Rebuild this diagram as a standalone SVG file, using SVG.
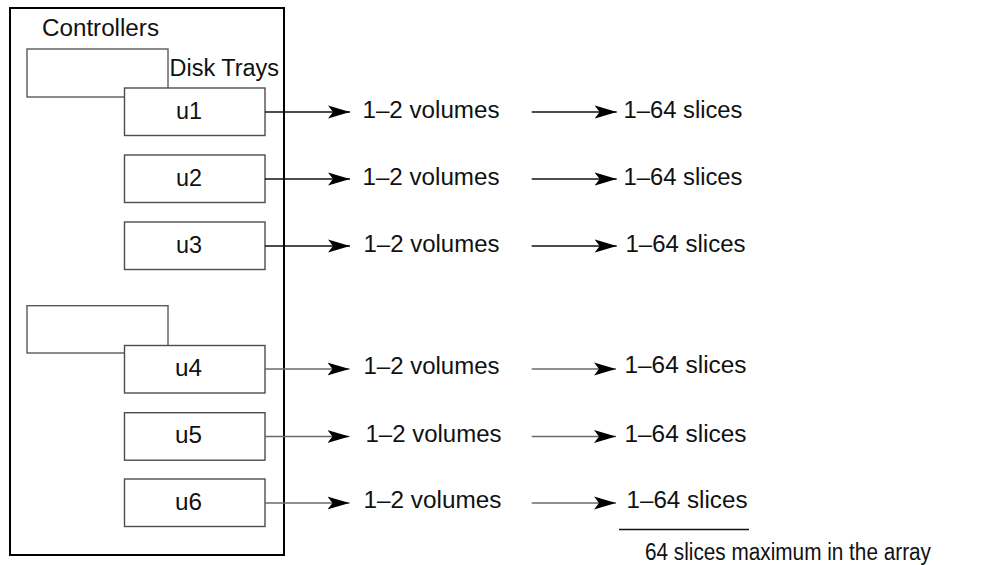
<svg xmlns="http://www.w3.org/2000/svg" width="994" height="565" viewBox="0 0 994 565">
<style>
text{font-family:"Liberation Sans",Arial,Helvetica,sans-serif;font-size:23px;fill:#111}
.box{fill:#fff;stroke:#4d4d4d;stroke-width:1.4}
.tray{fill:none;stroke:#5a5a5a;stroke-width:1.4}
.c1{stroke:#111;stroke-width:1.4;fill:none}
.c2{stroke:#6a6a6a;stroke-width:1.4;fill:none}
</style>
<defs>
<marker id="ah" markerUnits="userSpaceOnUse" markerWidth="24" markerHeight="16" viewBox="0 0 24 16" refX="22" refY="8" orient="auto">
<path d="M0,1.5 L22,8 L0,14.5 L5,8 z" fill="#000"/>
</marker>
</defs>
<rect width="994" height="565" fill="#fff"/>
<g id="enclosure">
<rect x="10" y="8" width="274" height="547" fill="none" stroke="#000" stroke-width="2"/>
<text x="42" y="36" textLength="117" lengthAdjust="spacingAndGlyphs">Controllers</text>
<text x="169.5" y="76" textLength="109.5" lengthAdjust="spacingAndGlyphs">Disk Trays</text>
</g>
<g id="tray1"><rect class="tray" x="27" y="49" width="141" height="48"/></g>
<g id="tray2"><rect class="tray" x="27" y="305.7" width="141" height="47.3"/></g>
<g id="u1"><rect class="box" x="124.5" y="88" width="140.5" height="47.5"/><text x="176" y="118.5" textLength="26" lengthAdjust="spacingAndGlyphs">u1</text></g>
<g id="u2"><rect class="box" x="124.5" y="155" width="140.5" height="47.5"/><text x="176" y="185.5" textLength="26" lengthAdjust="spacingAndGlyphs">u2</text></g>
<g id="u3"><rect class="box" x="124.5" y="222" width="140.5" height="47.5"/><text x="176" y="252.5" textLength="26" lengthAdjust="spacingAndGlyphs">u3</text></g>
<g id="u4"><rect class="box" x="124.5" y="345.5" width="140.5" height="47.5"/><text x="175" y="376" textLength="27" lengthAdjust="spacingAndGlyphs">u4</text></g>
<g id="u5"><rect class="box" x="124.5" y="412.7" width="140.5" height="47.5"/><text x="175" y="443" textLength="27" lengthAdjust="spacingAndGlyphs">u5</text></g>
<g id="u6"><rect class="box" x="124.5" y="479" width="140.5" height="47.5"/><text x="175" y="509.5" textLength="27" lengthAdjust="spacingAndGlyphs">u6</text></g>
<g id="connectors">
<line class="c1" x1="265" y1="112" x2="350" y2="112" marker-end="url(#ah)"/>
<line class="c1" x1="531.7" y1="112" x2="616.7" y2="112" marker-end="url(#ah)"/>
<line class="c1" x1="265" y1="179" x2="350" y2="179" marker-end="url(#ah)"/>
<line class="c1" x1="531.7" y1="179" x2="616.7" y2="179" marker-end="url(#ah)"/>
<line class="c1" x1="265" y1="246" x2="350" y2="246" marker-end="url(#ah)"/>
<line class="c1" x1="531.7" y1="246" x2="616.7" y2="246" marker-end="url(#ah)"/>
<line class="c2" x1="265" y1="369" x2="349.5" y2="369" marker-end="url(#ah)"/>
<line class="c2" x1="531.7" y1="369" x2="616" y2="369" marker-end="url(#ah)"/>
<line class="c2" x1="265" y1="436.5" x2="349.5" y2="436.5" marker-end="url(#ah)"/>
<line class="c2" x1="531.7" y1="436.5" x2="616" y2="436.5" marker-end="url(#ah)"/>
<line class="c2" x1="265" y1="503" x2="349.5" y2="503" marker-end="url(#ah)"/>
<line class="c2" x1="531.7" y1="503" x2="616" y2="503" marker-end="url(#ah)"/>
</g>
<g id="volumes">
<text x="362.5" y="117.5" textLength="137" lengthAdjust="spacingAndGlyphs">1–2 volumes</text>
<text x="362.5" y="184.5" textLength="137" lengthAdjust="spacingAndGlyphs">1–2 volumes</text>
<text x="363.5" y="251.5" textLength="136" lengthAdjust="spacingAndGlyphs">1–2 volumes</text>
<text x="363.5" y="374" textLength="136" lengthAdjust="spacingAndGlyphs">1–2 volumes</text>
<text x="365.5" y="441.5" textLength="136" lengthAdjust="spacingAndGlyphs">1–2 volumes</text>
<text x="363.5" y="508" textLength="138" lengthAdjust="spacingAndGlyphs">1–2 volumes</text>
</g>
<g id="slices">
<text x="623.5" y="117.5" textLength="119" lengthAdjust="spacingAndGlyphs">1–64 slices</text>
<text x="623.5" y="184.5" textLength="119" lengthAdjust="spacingAndGlyphs">1–64 slices</text>
<text x="625.5" y="251.5" textLength="120" lengthAdjust="spacingAndGlyphs">1–64 slices</text>
<text x="624.5" y="372.5" textLength="122" lengthAdjust="spacingAndGlyphs">1–64 slices</text>
<text x="624.5" y="441.5" textLength="122" lengthAdjust="spacingAndGlyphs">1–64 slices</text>
<text x="626.5" y="508" textLength="121" lengthAdjust="spacingAndGlyphs">1–64 slices</text>
</g>
<g id="total">
<line x1="619" y1="529.5" x2="749" y2="529.5" stroke="#111" stroke-width="1.4"/>
<text x="645" y="559.5" textLength="286" lengthAdjust="spacingAndGlyphs">64 slices maximum in the array</text>
</g>
</svg>
